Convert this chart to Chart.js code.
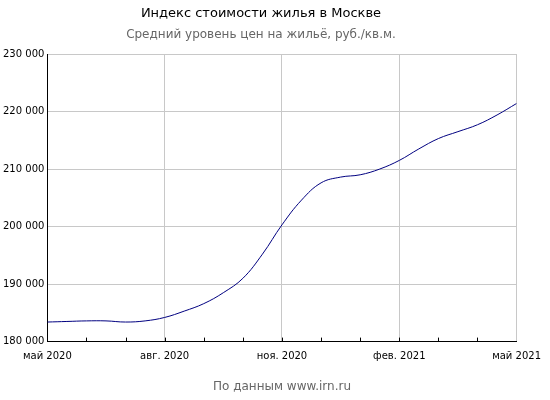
<!DOCTYPE html>
<html><head><meta charset="utf-8">
<script src="https://cdn.jsdelivr.net/npm/chart.js@4"></script>
<style>body{margin:0;background:#fff}#w{width:550px;height:400px}</style>
</head><body><div id="w"><canvas id="c"></canvas></div>
<script>
const months = [0,0.5,1,1.5,2,2.5,3,3.5,4,4.5,5,5.5,6,6.5,7,7.5,8,8.5,9,9.5,10,10.5,11,11.5,12];
const prices = [183400,183500,183600,183600,183400,183600,184200,185300,186600,188500,191000,195200,200300,204600,207600,208600,209000,210000,211500,213500,215300,216500,217700,219400,221400];
const tickLabels = {0:'май 2020',3:'авг. 2020',6:'ноя. 2020',9:'фев. 2021',12:'май 2021'};
const F = 'DejaVu Sans';
new Chart(document.getElementById('c'), {
  type:'line',
  data:{datasets:[{data:months.map((m,i)=>({x:m,y:prices[i]})),borderColor:'#000080',borderWidth:1,pointRadius:0,tension:0.4,fill:false}]},
  options:{responsive:true,maintainAspectRatio:false,animation:false,
    layout:{padding:{left:0,right:28,top:4,bottom:2}},
    plugins:{legend:{display:false},tooltip:{enabled:false},
      title:{display:true,text:'Индекс стоимости жилья в Москве',color:'#000',font:{family:F,size:13,weight:'normal'},padding:{top:2,bottom:6}},
      subtitle:{display:true,text:'Средний уровень цен на жильё, руб./кв.м.',color:'#666',font:{family:F,size:12},padding:{bottom:12}}
    },
    scales:{
      x:{type:'linear',min:0,max:12,
        ticks:{stepSize:1,autoSkip:false,maxRotation:0,padding:9,color:'#000',font:{family:F,size:10},callback:v=>tickLabels[v]||''},
        grid:{color:c=>(c.tick&&c.tick.value%3===0)?'#c8c8c8':'rgba(0,0,0,0)',drawTicks:false},
        border:{color:'#000'},
        title:{display:true,text:'По данным www.irn.ru',color:'#666',font:{family:F,size:12},padding:{top:8}}
      },
      y:{min:180000,max:230000,
        ticks:{stepSize:10000,color:'#000',font:{family:F,size:10},callback:v=>v.toLocaleString('ru-RU').replace(/\s/g,' ')},
        grid:{color:'#c8c8c8',drawTicks:false},border:{color:'#000'}
      }
    }
  },
  plugins:[{id:'minor',afterDraw(ch){const x=ch.scales.x,y=ch.scales.y,g=ch.ctx;g.save();g.strokeStyle='#000';g.lineWidth=1;g.beginPath();for(let m=1;m<12;m++){const px=Math.round(x.getPixelForValue(m))+0.5;g.moveTo(px,y.bottom);g.lineTo(px,y.bottom-4);}g.stroke();g.restore();}}]
});
</script></body></html>
